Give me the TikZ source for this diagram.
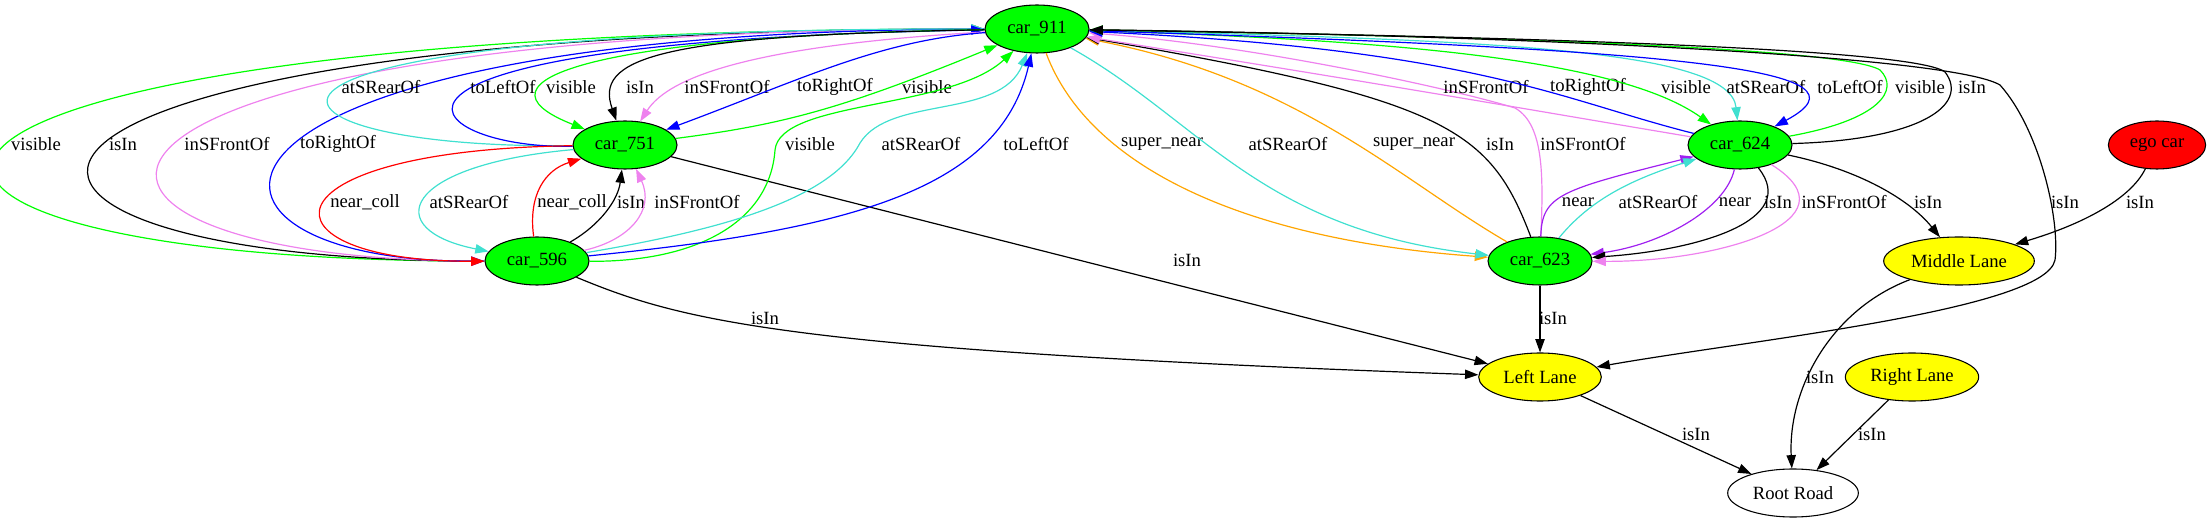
\documentclass[tikz,border=0pt]{standalone}
\usepackage{fontspec}
\setmainfont{Liberation Serif}
\newfontfamily\gvfont{Liberation Serif}
\usetikzlibrary{arrows.meta, shapes.geometric}

\definecolor{gvgreen}{RGB}{0,255,0}
\definecolor{gvviolet}{RGB}{238,130,238}
\definecolor{gvturq}{RGB}{64,224,208}
\definecolor{gvpurple}{RGB}{160,32,240}
\definecolor{gvorange}{RGB}{255,165,0}
\definecolor{gvyellow}{RGB}{255,255,0}

\tikzset{
  gvnode/.style={ellipse,draw=black,line width=0.8pt,minimum height=36pt,
                 inner sep=0pt,font=\gvfont\fontsize{14}{16}\selectfont},
  car/.style={gvnode,fill=gvgreen,minimum width=78pt},
  lane/.style={gvnode,fill=gvyellow},
  rel/.style={draw=#1,line width=0.9pt,-{Triangle[length=10pt,width=7pt]}},
  lbl/.style={text=black,inner sep=0pt,font=\gvfont\fontsize{14}{16}\selectfont}
}

\begin{document}
\begin{tikzpicture}[x=0.75pt,y=-0.75pt]
    \useasboundingbox (0,0) rectangle (2211,523);
    % Vehicles
    \node[car](c911)at(1037,29){car\_911};
    \node[car](c751)at(625,145){car\_751};
    \node[car](c596)at(537,261){car\_596};
    \node[car](c624)at(1740,145){car\_624};
    \node[car](c623)at(1540,261){car\_623};
    \node[gvnode,fill=red,minimum width=73pt](ego)at(2157,145){ego car};
    % Lanes and road
    \node[lane,minimum width=113pt](laneM)at(1959,261){Middle Lane};
    \node[lane,minimum width=92pt](laneL)at(1540,377){Left Lane};
    \node[lane,minimum width=100pt](laneR)at(1912,377){Right Lane};
    \node[gvnode,minimum width=98pt](road)at(1793,493){Root Road};
    % car_596 and car_911, outer loops
    \draw[rel=gvgreen](c596)..controls(-238,262)and(-238,30)..(c911)
         node[lbl]at(36,144){visible};
    \draw[rel=black](c596)..controls(-108,262)and(-108,30)..(c911)
         node[lbl]at(123,144){isIn};
    \draw[rel=gvviolet](c596)..controls(-14,262)and(-14,30)..(c911)
         node[lbl]at(227,144){inSFrontOf};
    \draw[rel=blue](c911)..controls(146,30)and(146,262)..(c596)
         node[lbl]at(338,144){toRightOf};
    % car_751 outgoing
    \draw[rel=gvturq](c751)..controls(230,150)and(150,28)..(c911)
         node[lbl]at(381,87){atSRearOf};
    \draw[rel=blue](c751)..controls(420,150)and(295,42)..(c911)
         node[lbl]at(503,87){toLeftOf};
    \draw[rel=red](c751)..controls(254,150)and(254,262)..(c596)
         node[lbl]at(365,202){near\_coll};
    \draw[rel=gvturq](c751)..controls(400,165)and(380,230)..(c596)
         node[lbl]at(469,202){atSRearOf};
    \draw[rel=gvgreen](c751)..controls(780,125)and(840,110)..(c911)
         node[lbl]at(927,87){visible};
    \draw[rel=black](c751)--(laneL)
         node[lbl]at(1187,260){isIn};
    % car_911 to car_751
    \draw[rel=gvgreen](c911)..controls(600,35)and(460,80)..(c751)
         node[lbl]at(571,87){visible};
    \draw[rel=black](c911)..controls(650,35)and(595,60)..(c751)
         node[lbl]at(640,87){isIn};
    \draw[rel=gvviolet](c911)..controls(760,45)and(670,75)..(c751)
         node[lbl]at(727,87){inSFrontOf};
    \draw[rel=blue](c911)..controls(880,40)and(800,80)..(c751)
         node[lbl]at(835,87){toRightOf};
    % car_596 outgoing
    \draw[rel=red](c596)..controls(528,195)and(545,170)..(c751)
         node[lbl]at(572,202){near\_coll};
    \draw[rel=black](c596)..controls(600,225)and(618,200)..(c751)
         node[lbl]at(631,202){isIn};
    \draw[rel=gvviolet](c596)..controls(630,240)and(655,210)..(c751)
         node[lbl]at(697,202){inSFrontOf};
    \draw[rel=gvgreen](c596)..controls(700,262)and(770,220)..(775,150)
         ..controls(780,100)and(950,110)..(c911)
         node[lbl]at(810,144){visible};
    \draw[rel=gvturq](c596)..controls(720,230)and(830,200)..(860,143)
         ..controls(890,95)and(1000,120)..(c911)
         node[lbl]at(921,144){atSRearOf};
    \draw[rel=blue](c596)..controls(850,230)and(1000,190)..(c911)
         node[lbl]at(1036,144){toLeftOf};
    \draw[rel=black](c596)..controls(680,320)and(780,350)..(laneL)
         node[lbl]at(765,318){isIn};
    % car_911 and car_623
    \draw[rel=gvorange](c911)..controls(1090,170)and(1250,240)..(c623)
         node[lbl]at(1162,144){super\_near};
    \draw[rel=gvturq](c911)..controls(1200,120)and(1260,230)..(c623)
         node[lbl]at(1288,144){atSRearOf};
    \draw[rel=gvorange](c623)..controls(1400,180)and(1300,80)..(c911)
         node[lbl]at(1414,144){super\_near};
    \draw[rel=black](c623)..controls(1490,130)and(1450,100)..(c911)
         node[lbl]at(1500,144){isIn};
    \draw[rel=gvviolet](c623)..controls(1543,180)and(1545,125)..(1515,108)
         ..controls(1450,88)and(1250,45)..(c911)
         node[lbl]at(1583,144){inSFrontOf};
    % car_911 and car_624
    \draw[rel=gvviolet](c624)..controls(1560,115)and(1420,90)..(c911)
         node[lbl]at(1486,87){inSFrontOf};
    \draw[rel=blue](c624)..controls(1560,100)and(1480,50)..(c911)
         node[lbl]at(1588,87){toRightOf};
    \draw[rel=gvgreen](c911)..controls(1400,40)and(1620,60)..(c624)
         node[lbl]at(1686,87){visible};
    \draw[rel=gvturq](c911)..controls(1500,40)and(1730,50)..(c624)
         node[lbl]at(1766,87){atSRearOf};
    \draw[rel=blue](c911)..controls(1700,50)and(1880,70)..(c624)
         node[lbl]at(1850,87){toLeftOf};
    \draw[rel=gvgreen](c624)..controls(1880,120)and(1900,90)..(1880,70)
         ..controls(1840,45)and(1400,35)..(c911)
         node[lbl]at(1920,87){visible};
    \draw[rel=black](c624)..controls(1920,140)and(1970,105)..(1945,72)
         ..controls(1910,45)and(1400,35)..(c911)
         node[lbl]at(1972,87){isIn};
    % car_623 and car_624
    \draw[rel=gvpurple](c623)..controls(1542,195)and(1560,190)..(c624)
         node[lbl]at(1578,202){near};
    \draw[rel=gvturq](c623)..controls(1590,200)and(1630,180)..(c624)
         node[lbl]at(1658,202){atSRearOf};
    \draw[rel=gvpurple](c624)..controls(1725,210)and(1660,245)..(c623)
         node[lbl]at(1735,202){near};
    \draw[rel=black](c624)..controls(1800,220)and(1700,250)..(c623)
         node[lbl]at(1778,202){isIn};
    \draw[rel=gvviolet](c624)..controls(1860,220)and(1720,262)..(c623)
         node[lbl]at(1844,202){inSFrontOf};
    % lanes
    \draw[rel=black](c624)..controls(1860,170)and(1910,200)..(laneM)
         node[lbl]at(1928,202){isIn};
    \draw[rel=black](ego)..controls(2130,200)and(2080,225)..(laneM)
         node[lbl]at(2140,202){isIn};
    \draw[rel=black](c911)..controls(1500,35)and(1950,55)..(2000,85)
         ..controls(2040,130)and(2060,220)..(2055,260)
         ..controls(2045,310)and(1750,340)..(laneL)
         node[lbl]at(2065,202){isIn};
    \draw[rel=black](c623)--(laneL)
         node[lbl]at(1553,318){isIn};
    \draw[rel=black](laneL)--(road)
         node[lbl]at(1696,434){isIn};
    \draw[rel=black](laneM)..controls(1830,310)and(1788,390)..(road)
         node[lbl]at(1820,377){isIn};
    \draw[rel=black](laneR)--(road)
         node[lbl]at(1872,434){isIn};
  \end{tikzpicture}
\end{document}
